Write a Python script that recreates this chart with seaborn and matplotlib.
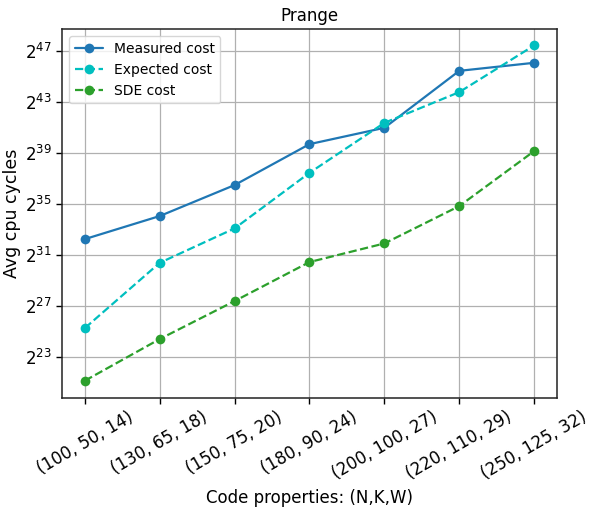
import matplotlib
matplotlib.use("Agg")
import matplotlib.pyplot as plt
import matplotlib.ticker as mticker
import numpy as np
import pandas as pd
import seaborn as sns

# Code parameters (N, K, W) for each benchmark point
code_props = ["(100, 50, 14)", "(130, 65, 18)", "(150, 75, 20)", "(180, 90, 24)",
              "(200, 100, 27)", "(220, 110, 29)", "(250, 125, 32)"]

# Average cpu cycles per series
measured_cost = [5.04e9, 1.766e10, 9.52e10, 8.81e11, 2.14e12, 4.74e13, 7.34e13]
expected_cost = [3.99e7, 1.388e9, 9.02e9, 1.851e11, 2.80e12, 1.489e13, 1.883e14]
sde_cost = [2.28e6, 2.20e7, 1.734e8, 1.447e9, 3.98e9, 3.03e10, 6.02e11]

ytick_exponents = [23, 27, 31, 35, 39, 43, 47]

sns.set_style("white")
plt.rcParams["font.family"] = ["DejaVu Sans"]
plt.rcParams["text.color"] = "black"
plt.rcParams["axes.labelcolor"] = "black"
plt.rcParams["xtick.color"] = "black"
plt.rcParams["ytick.color"] = "black"

fig = plt.figure(figsize=(5.94, 5.16), dpi=100)
ax = fig.add_axes([0.105, 0.229, 0.832, 0.714])

pos = np.arange(len(code_props))
series = [
    ("Measured cost", measured_cost, "#1f77b4", "-"),
    ("Expected cost", expected_cost, "#00bfbf", "--"),
    ("SDE cost", sde_cost, "#2ca02c", "--"),
]
for label, vals, color, ls in series:
    df = pd.DataFrame({"x": pos, "y": vals})
    sns.lineplot(data=df, x="x", y="y", ax=ax, color=color, linestyle=ls,
                 marker="o", markersize=7, markeredgewidth=0, linewidth=1.6,
                 label=label)

ax.set_yscale("log", base=2)
ax.yaxis.set_major_locator(mticker.FixedLocator([2.0 ** e for e in ytick_exponents]))
ax.yaxis.set_major_formatter(mticker.LogFormatterSciNotation(base=2))
ax.yaxis.set_minor_locator(mticker.NullLocator())
ax.set_ylim(2.0 ** 19.78, 2.0 ** 48.68)

ax.set_xticks(pos)
ax.set_xticklabels(code_props, rotation=30, fontsize=12)
ax.set_xlim(-0.3, 6.3)
ax.tick_params(axis="y", labelsize=12)
ax.tick_params(axis="both", direction="out", length=4, width=1, color="black",
               labelcolor="black", left=True, bottom=True)

ax.grid(True, color="#b0b0b0", linewidth=0.9)
for sp in ax.spines.values():
    sp.set_color("#222222")
    sp.set_linewidth(1.1)

ax.set_title("Prange", fontsize=12, color="black")
ax.set_xlabel("Code properties: (N,K,W)", fontsize=12, color="black")
ax.set_ylabel("Avg cpu cycles", fontsize=12.5, color="black", labelpad=3)
leg = ax.legend(loc="upper left", fontsize=10, frameon=True)
for t in leg.get_texts():
    t.set_color("black")

fig.savefig("out.png", dpi=100)
